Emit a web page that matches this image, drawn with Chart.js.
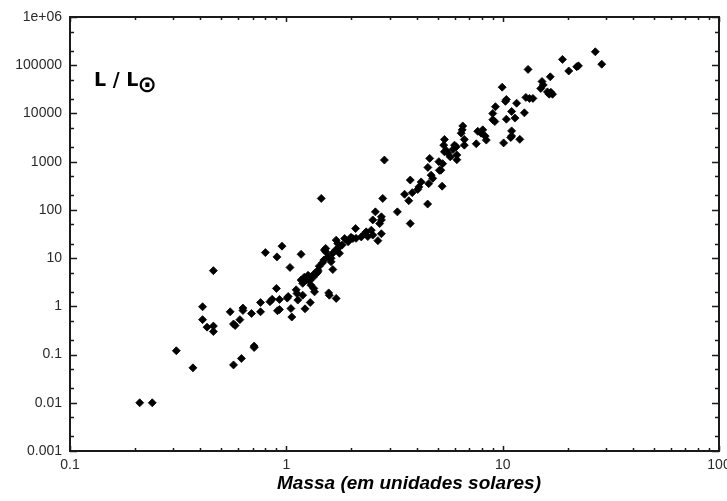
<!DOCTYPE html>
<html>
<head>
<meta charset="utf-8">
<title>Massa x Luminosidade</title>
<script src="https://cdn.jsdelivr.net/npm/chart.js@4.4.1/dist/chart.umd.min.js"></script>
<style>
  html, body { margin: 0; padding: 0; background: #fff; }
  .chart-box { position: relative; width: 727px; height: 501px; }
</style>
</head>
<body>
<div class="chart-box"><canvas id="chartCanvas"></canvas></div>
<script>
(function() {
  'use strict';

  // massa (unidades solares) de cada estrela
  var massValues = [
    0.21, 0.24, 0.31, 0.37, 0.46, 0.41, 0.41, 0.43, 0.46, 0.46,
    0.55, 0.57, 0.58, 0.61, 0.63, 0.63, 0.57, 0.62, 0.71, 0.71,
    0.69, 0.76, 0.76, 0.80, 0.905, 1.17, 1.04, 0.90, 0.84, 0.86,
    0.93, 0.93, 0.91, 1.01, 1.02, 1.05, 1.06, 1.13, 1.11, 1.12,
    1.19, 1.22, 1.29, 1.19, 1.24, 1.28, 1.35, 1.40, 1.45, 0.955,
    1.17, 1.21, 1.26, 1.28, 1.30, 1.34, 1.35, 1.33, 1.38, 1.40,
    1.42, 1.47, 1.49, 1.52, 1.56, 1.61, 1.64, 1.69, 1.73, 1.76,
    1.81, 1.86, 1.93, 1.61, 1.64, 1.57, 1.58, 1.70, 1.50, 1.52,
    1.70, 1.76, 1.99, 2.03, 2.09, 2.10, 2.22, 2.30, 2.34, 2.47,
    2.51, 2.75, 2.38, 2.65, 2.51, 2.75, 2.75, 2.70, 2.58, 2.79,
    2.84, 3.26, 3.74, 3.52, 3.82, 3.68, 3.74, 4.6, 4.51, 5.07,
    5.1, 4.67, 4.75, 4.55, 4.2, 4.1, 4.05, 4.5, 5.25, 5.18,
    5.28, 5.38, 5.34, 5.48, 5.38, 5.57, 5.72, 6.14, 6.14, 5.99,
    6.1, 5.89, 6.54, 6.5, 6.43, 6.65, 6.65, 7.55, 7.67, 8.09,
    7.95, 8.3, 8.4, 9.26, 9.0, 9.0, 9.2, 9.95, 10.4, 10.3,
    11.6, 12.8, 13.3, 13.8, 11.0, 11.4, 10.4, 12.6, 11.0, 11.0,
    10.9, 10.1, 12.0, 13.1, 15.2, 15.4, 15.0, 16.1, 16.7, 17.0,
    16.4, 16.6, 18.9, 20.2, 22.0, 22.4, 26.8, 28.7
  ];

  // luminosidade L / Lsol, na mesma ordem
  var lumValues = [
    0.01, 0.01, 0.12, 0.053, 5.5, 0.98, 0.53, 0.37, 0.39, 0.30,
    0.77, 0.43, 0.40, 0.53, 0.92, 0.82, 0.061, 0.083, 0.15, 0.14,
    0.71, 1.2, 0.77, 13, 10.6, 12, 6.4, 2.35, 1.25, 1.4,
    1.39, 0.86, 0.81, 1.48, 1.6, 0.90, 0.60, 1.35, 2.2, 1.85,
    1.7, 0.89, 1.2, 3.0, 3.5, 4.1, 4.8, 5.2, 173, 17.7,
    3.5, 4.0, 4.4, 3.4, 2.75, 2.35, 2.0, 4.0, 4.8, 5.6,
    6.8, 8.0, 9.1, 13.5, 10.7, 9.9, 12.6, 14.7, 20, 12.6,
    18.6, 25.5, 21.8, 8.4, 5.8, 1.9, 1.7, 1.46, 14.7, 15.9,
    23.6, 17.1, 27, 25.5, 41, 25.7, 27.5, 32, 35, 38,
    30, 32, 28, 23, 62, 72, 62, 52, 91, 173,
    1080, 91, 415, 211, 228, 155, 52, 1170, 760, 1000,
    660, 525, 450, 350, 380, 300, 265, 132, 310, 665,
    910, 2890, 2200, 1700, 1600, 1510, 1260, 1380, 1100, 2200,
    2040, 1780, 5500, 4570, 3890, 2890, 2200, 2350, 4270, 4570,
    3890, 3390, 2800, 13800, 10000, 7400, 6800, 35000, 19500, 17800,
    16300, 21500, 20500, 20500, 11000, 8000, 7600, 10300, 4350, 3400,
    3170, 2450, 2900, 82000, 46000, 39000, 33000, 28000, 27500, 25000,
    25000, 57500, 132000, 76000, 93000, 97000, 190000, 105000
  ];

  var xTickValues = [0.1, 1, 10, 100];
  var xTickLabels = ['0.1', '1', '10', '100'];
  var yTickValues = [0.001, 0.01, 0.1, 1, 10, 100, 1000, 10000, 100000, 1000000];
  var yTickLabels = ['0.001', '0.01', '0.1', '1', '10', '100', '1000', '10000', '100000', '1e+06'];
  var xMinorSteps = [2, 3, 4, 5, 6, 7, 8, 9];
  var yMinorSteps = [2, 5];

  var axisTitle = 'Massa (em unidades solares)';
  var unitText = 'L / L';
  var sunSymbol = '\u2299';

  var INK = '#1a1a1a';

  function fixedTicks(values) {
    return function(scale) {
      scale.ticks = values.map(function(v) { return { value: v }; });
    };
  }

  function labelFor(values, labels) {
    return function(value) {
      var i = values.indexOf(value);
      return i >= 0 ? labels[i] : '';
    };
  }

  function strokeTicks(chart) {
    var ctx = chart.ctx;
    var area = chart.chartArea;
    var xs = chart.scales.x;
    var ys = chart.scales.y;

    function xTick(v, len) {
      var px = Math.round(xs.getPixelForValue(v)) + 0.5;
      ctx.moveTo(px, area.bottom);
      ctx.lineTo(px, area.bottom - len);
      ctx.moveTo(px, area.top);
      ctx.lineTo(px, area.top + len);
    }
    function yTick(v, len) {
      var py = Math.round(ys.getPixelForValue(v)) + 0.5;
      ctx.moveTo(area.left, py);
      ctx.lineTo(area.left + len, py);
      ctx.moveTo(area.right, py);
      ctx.lineTo(area.right - len, py);
    }

    ctx.beginPath();
    xTickValues.forEach(function(v, i) {
      xTick(v, 5);
      if (i === xTickValues.length - 1) return;
      xMinorSteps.forEach(function(k) { xTick(v * k, 3); });
    });
    yTickValues.forEach(function(v, i) {
      yTick(v, 7);
      if (i === yTickValues.length - 1) return;
      yMinorSteps.forEach(function(k) { yTick(v * k, 4); });
    });
    ctx.lineWidth = 1.5;
    ctx.strokeStyle = INK;
    ctx.stroke();
  }

  var framePlugin = {
    id: 'frameAndLabels',
    afterDraw: function(chart) {
      var ctx = chart.ctx;
      var area = chart.chartArea;
      ctx.save();

      ctx.lineWidth = 2;
      ctx.strokeStyle = INK;
      ctx.strokeRect(area.left, area.top, area.right - area.left, area.bottom - area.top);
      strokeTicks(chart);

      // L / L(sol) inside the plot
      ctx.fillStyle = '#000';
      ctx.textAlign = 'left';
      ctx.textBaseline = 'alphabetic';
      ctx.font = 'bold 19px "DejaVu Sans"';
      ctx.fillText(unitText, 94, 86);
      var w = ctx.measureText(unitText).width;
      ctx.font = 'bold 23px "DejaVu Sans"';
      ctx.fillText(sunSymbol, 94 + w - 1, 92);

      // x axis title
      ctx.font = 'italic bold 19px "Liberation Sans"';
      ctx.textAlign = 'center';
      ctx.fillText(axisTitle, 409, 489);

      ctx.restore();
    }
  };

  function init() {
    var canvas = document.getElementById('chartCanvas');
    var points = massValues.map(function(m, i) { return { x: m, y: lumValues[i] }; });

    new Chart(canvas.getContext('2d'), {
      type: 'scatter',
      data: {
        datasets: [{
          data: points,
          pointStyle: 'rectRot',
          pointRadius: 4,
          backgroundColor: '#000',
          borderColor: '#000',
          borderWidth: 0.8
        }]
      },
      options: {
        responsive: true,
        maintainAspectRatio: false,
        animation: false,
        layout: { padding: { top: 17, right: 8, left: 0, bottom: 0 } },
        plugins: { legend: { display: false }, tooltip: { enabled: false } },
        scales: {
          x: {
            type: 'logarithmic',
            min: 0.1,
            max: 100,
            afterBuildTicks: fixedTicks(xTickValues),
            afterFit: function(scale) {
              scale.height = 50;
              scale.paddingLeft = 0;
              scale.paddingRight = 0;
            },
            border: { display: false },
            grid: { display: false, drawTicks: false },
            ticks: {
              callback: labelFor(xTickValues, xTickLabels),
              autoSkip: false,
              maxRotation: 0,
              padding: 6,
              color: '#2a2a2a',
              font: { family: 'Liberation Sans', size: 14 }
            }
          },
          y: {
            type: 'logarithmic',
            min: 0.001,
            max: 1000000,
            afterBuildTicks: fixedTicks(yTickValues),
            afterFit: function(scale) { scale.width = 70; },
            border: { display: false },
            grid: { display: false, drawTicks: false },
            ticks: {
              callback: labelFor(yTickValues, yTickLabels),
              autoSkip: false,
              padding: 8,
              color: '#2a2a2a',
              font: { family: 'Liberation Sans', size: 14 }
            }
          }
        }
      },
      plugins: [framePlugin]
    });
  }

  document.addEventListener('DOMContentLoaded', init);
})();
</script>
</body>
</html>
